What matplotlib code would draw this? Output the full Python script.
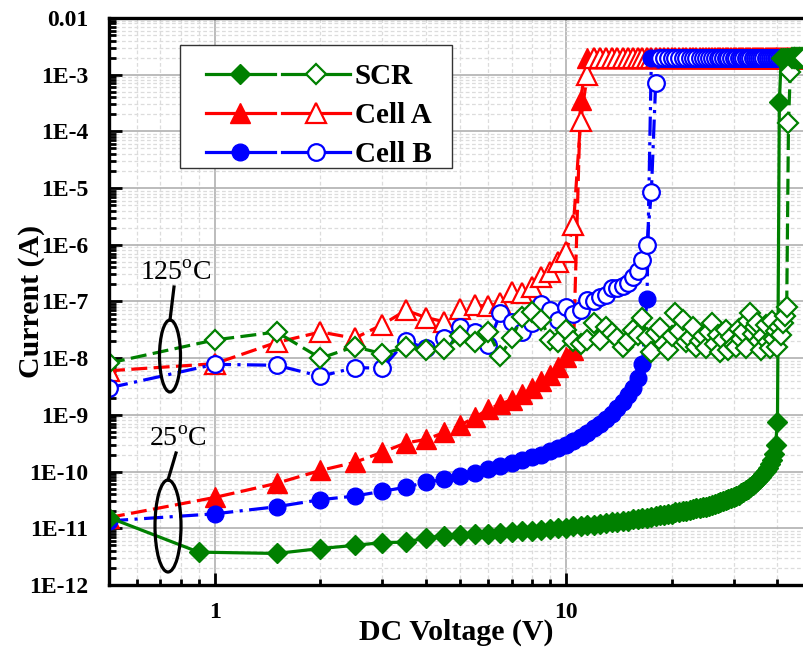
import numpy as np
import matplotlib
matplotlib.use('Agg')
import matplotlib.pyplot as plt
from matplotlib.lines import Line2D
from matplotlib.patches import Ellipse, Rectangle
from matplotlib.legend_handler import HandlerTuple
from matplotlib.ticker import FixedLocator, LogLocator, NullFormatter

plt.rcParams['font.family'] = ['Liberation Serif', 'DejaVu Serif']
plt.rcParams['mathtext.fontset'] = 'custom'
plt.rcParams['mathtext.rm'] = 'Liberation Serif'

# compliance current of the sweep (A)
compliance = 2e-3

# ---------------- 25 C (filled markers) ----------------
# SCR: 0.5, 0.9 V then 1.5 ... 40 V in 0.5 V steps
scr25_v = [0.5, 0.9] + list(np.arange(1.5, 40.01, 0.5))
scr25_i = [1.55e-11, 3.8e-12,
           3.6e-12, 4.4e-12, 5.0e-12, 5.6e-12, 5.7e-12, 6.8e-12, 7.4e-12, 7.5e-12,   # 1.5 - 5
           7.9e-12, 8.0e-12, 8.4e-12, 8.5e-12, 8.9e-12, 9.0e-12, 9.5e-12, 9.6e-12,   # 5.5 - 9
           1.01e-11, 1.03e-11, 1.08e-11, 1.09e-11, 1.14e-11, 1.15e-11, 1.21e-11,     # 9.5 - 12.5
           1.22e-11, 1.28e-11, 1.29e-11, 1.35e-11, 1.37e-11, 1.43e-11, 1.45e-11,     # 13 - 16
           1.52e-11, 1.54e-11, 1.61e-11, 1.63e-11, 1.70e-11, 1.72e-11, 1.80e-11,     # 16.5 - 19.5
           1.82e-11, 1.90e-11, 1.93e-11, 2.01e-11, 2.04e-11, 2.12e-11, 2.16e-11,     # 20 - 23
           2.24e-11, 2.29e-11, 2.38e-11, 2.42e-11, 2.52e-11, 2.58e-11, 2.70e-11,     # 23.5 - 26.5
           2.76e-11, 2.90e-11, 2.98e-11, 3.14e-11, 3.24e-11, 3.42e-11, 3.55e-11,     # 27 - 30
           3.76e-11, 3.92e-11, 4.18e-11, 4.38e-11, 4.70e-11, 4.95e-11, 5.35e-11,     # 30.5 - 33.5
           5.70e-11, 6.20e-11, 6.70e-11, 7.40e-11, 8.10e-11, 9.10e-11, 1.02e-10,     # 34 - 37
           1.16e-10, 1.35e-10, 1.62e-10, 2.05e-10, 3.00e-10, 7.50e-10]               # 37.5 - 40
scr25_bv = [40.5]
scr25_bi = [3.3e-4]
scr25_pv = np.arange(41.0, 47.51, 0.5)

# Cell A: 0.5 ... 10.5 V
cella25_v = np.arange(0.5, 10.51, 0.5)
cella25_i = [1.55e-11, 3.5e-11, 6.2e-11, 1.05e-10, 1.45e-10, 2.2e-10, 3.2e-10, 3.7e-10,
             4.9e-10, 6.6e-10, 9.0e-10, 1.25e-9, 1.55e-9, 1.85e-9, 2.3e-9, 3.0e-9,
             3.9e-9, 5.0e-9, 7.0e-9, 1.05e-8, 1.4e-8]
cella25_bv = [11.0]
cella25_bi = [3.6e-4]
cella25_pv = np.arange(11.5, 47.51, 0.5)

# Cell B: 0.5 ... 17 V
cellb25_v = np.arange(0.5, 17.01, 0.5)
cellb25_i = [1.35e-11, 1.8e-11, 2.4e-11, 3.2e-11, 3.7e-11, 4.5e-11, 5.3e-11, 6.5e-11,
             7.3e-11, 8.3e-11, 9.5e-11, 1.1e-10, 1.25e-10, 1.4e-10, 1.6e-10, 1.8e-10,
             2.0e-10, 2.3e-10, 2.6e-10, 3.0e-10, 3.4e-10, 4.0e-10, 4.8e-10, 5.8e-10,
             7.0e-10, 8.5e-10, 1.05e-9, 1.3e-9, 1.7e-9, 2.2e-9, 3.0e-9, 4.5e-9,
             8.0e-9, 1.1e-7]
cellb25_bv = []
cellb25_bi = []
cellb25_pv = np.arange(17.5, 47.51, 0.5)

# ---------------- 125 C (open markers) ----------------
scr125_v = np.arange(0.5, 42.51, 0.5)
scr125_i = [8.2e-9, 2.1e-8, 2.9e-8, 1.0e-8, 1.6e-8, 1.2e-8, 1.55e-8, 1.4e-8, 1.45e-8, 2.45e-8,  # 0.5 - 5
            1.9e-8, 2.9e-8, 1.1e-8, 2.25e-8, 5.3e-8, 6.5e-8, 4.7e-8, 2.1e-8, 1.9e-8, 3.1e-8,   # 5.5 - 10
            2.0e-8, 1.8e-8, 2.1e-8, 4.1e-8, 2.1e-8, 3.5e-8, 2.8e-8, 2.3e-8, 1.6e-8, 2.0e-8,    # 10.5 - 15
            3.1e-8, 2.6e-8, 5.2e-8, 2.3e-8, 1.3e-8, 2.8e-8, 3.4e-8, 1.8e-8, 1.4e-8, 2.5e-8,    # 15.5 - 20
            6.2e-8, 3.0e-8, 4.7e-8, 1.9e-8, 2.3e-8, 3.6e-8, 1.6e-8, 2.0e-8, 2.5e-8, 1.5e-8,    # 20.5 - 25
            2.9e-8, 4.1e-8, 1.8e-8, 2.6e-8, 1.3e-8, 2.1e-8, 3.2e-8, 1.4e-8, 2.4e-8, 1.7e-8,    # 25.5 - 30
            1.6e-8, 3.3e-8, 2.2e-8, 2.9e-8, 1.5e-8, 4.5e-8, 6.2e-8, 2.7e-8, 3.6e-8, 4.1e-8,    # 30.5 - 35
            2.0e-8, 1.4e-8, 2.5e-8, 3.8e-8, 1.9e-8, 1.5e-8, 4.5e-8, 2.2e-8, 3.0e-8, 1.6e-8,    # 35.5 - 40
            3.5e-8, 2.6e-8, 4.2e-8, 5.5e-8, 7.9e-8]                                             # 40.5 - 42.5
scr125_bv = [43.0, 43.5]
scr125_bi = [1.4e-4, 1.1e-3]
scr125_pv = np.arange(44.0, 47.51, 0.5)

cella125_v = np.arange(0.5, 10.51, 0.5)
cella125_i = [6.0e-9, 8.0e-9, 1.9e-8, 2.9e-8, 2.25e-8, 3.9e-8, 7.0e-8, 5.2e-8, 4.4e-8, 7.3e-8,
              8.6e-8, 8.3e-8, 9.4e-8, 1.46e-7, 1.4e-7, 1.8e-7, 2.7e-7, 3.3e-7, 4.9e-7, 7.4e-7,
              2.2e-6]
cella125_bv = [11.0, 11.5]
cella125_bi = [1.5e-4, 1.0e-3]
cella125_pv = np.arange(12.0, 47.51, 0.5)

cellb125_v = np.arange(0.5, 17.51, 0.5)
cellb125_i = [3.0e-9, 7.8e-9, 7.5e-9, 4.8e-9, 6.8e-9, 6.7e-9, 2.0e-8, 1.5e-8, 2.3e-8, 3.5e-8,
              2.9e-8, 1.7e-8, 6.2e-8, 4.3e-8, 2.9e-8, 4.1e-8, 9.2e-8, 7.0e-8, 4.7e-8, 8.0e-8,
              6.0e-8, 7.0e-8, 1.05e-7, 1.0e-7, 1.2e-7, 1.3e-7, 1.7e-7, 1.75e-7, 1.9e-7, 2.1e-7,
              2.7e-7, 3.5e-7, 5.5e-7, 1.0e-6, 8.6e-6]
cellb125_bv = [18.0]
cellb125_bi = [7.0e-4]
cellb125_pv = np.arange(18.5, 47.51, 0.5)

GREEN = '#008000'
RED = '#ff0000'
BLUE = '#0000ff'
DASH = (0, (5, 2))
DASHDOT = (0, (6, 2, 1, 2))

W, H = 804, 654
fig = plt.figure(figsize=(W / 100, H / 100), dpi=100)
ax = fig.add_axes([109 / W, 1 - 585 / H, 1 - 109 / W, (585 - 18) / H])
ax.set_xscale('log')
ax.set_yscale('log')
ax.set_xlim(0.5, 47.6)
ax.set_ylim(1e-12, 1e-2)


def join(v, i, bv, bi, pv):
    xs = list(v) + list(bv) + list(pv)
    ys = list(i) + list(bi) + [compliance] * len(pv)
    return xs, ys


# drawing order: red under blue under green (as on the compliance plateau)
series = [
    (cella25_v, cella25_i, cella25_bv, cella25_bi, cella25_pv, RED, '^', 14, DASH, True),
    (cella125_v, cella125_i, cella125_bv, cella125_bi, cella125_pv, RED, '^', 14, DASH, False),
    (cellb25_v, cellb25_i, cellb25_bv, cellb25_bi, cellb25_pv, BLUE, 'o', 12, DASHDOT, True),
    (cellb125_v, cellb125_i, cellb125_bv, cellb125_bi, cellb125_pv, BLUE, 'o', 12, DASHDOT, False),
    (scr25_v, scr25_i, scr25_bv, scr25_bi, scr25_pv, GREEN, 'D', 10, '-', True),
    (scr125_v, scr125_i, scr125_bv, scr125_bi, scr125_pv, GREEN, 'D', 10, DASH, False),
]
for v, i, bv, bi, pv, c, m, ms, ls, filled in series:
    xs, ys = join(v, i, bv, bi, pv)
    ax.plot(xs, ys, color=c, lw=2.3, ls=ls, marker=m, ms=ms,
            mfc=c if filled else 'white', mec=c, mew=1.0 if filled else 1.6)

# grid
ax.grid(which='major', color='#b0b0b0', lw=1.2, ls='-')
ax.grid(which='minor', color='#dcdcdc', lw=0.9, ls=(0, (3, 2)))
ax.set_axisbelow(True)

# ticks
ydec = [1e-12, 1e-11, 1e-10, 1e-9, 1e-8, 1e-7, 1e-6, 1e-5, 1e-4, 1e-3, 1e-2]
ylabs = ['1E-12', '1E-11', '1E-10', '1E-9', '1E-8', '1E-7', '1E-6', '1E-5', '1E-4', '1E-3', '0.01']
ax.yaxis.set_major_locator(FixedLocator(ydec))
ax.set_yticklabels(ylabs)
ax.yaxis.set_minor_locator(LogLocator(base=10, subs=np.arange(2, 10), numticks=20))
ax.yaxis.set_minor_formatter(NullFormatter())
ax.xaxis.set_major_locator(FixedLocator([1, 10]))
ax.set_xticklabels(['1', '10'])
ax.xaxis.set_minor_locator(LogLocator(base=10, subs=np.arange(2, 10), numticks=20))
ax.xaxis.set_minor_formatter(NullFormatter())
ax.tick_params(which='both', direction='in', top=False, right=False, width=2, color='black')
ax.tick_params(which='major', length=9, labelsize=17)
ax.tick_params(axis='y', which='major', pad=15)
ax.tick_params(axis='x', which='major', pad=12)
ax.tick_params(axis='y', which='minor', length=5)
ax.tick_params(axis='x', which='minor', length=4)
for lab in ax.get_xticklabels() + ax.get_yticklabels():
    lab.set_fontweight('bold')

for s in ['left', 'bottom', 'top']:
    ax.spines[s].set_linewidth(2.4)
ax.spines['right'].set_visible(False)

ax.set_xlabel('DC Voltage (V)', fontsize=21.5, fontweight='bold')
ax.set_ylabel('Current (A)', fontsize=21.5, fontweight='bold')
ax.xaxis.set_label_coords(0.5, -0.06)
ax.yaxis.set_label_coords(-0.092, 0.5)


def fx(px):
    return px / W


def fy(py):
    return 1 - py / H


# legend: filled (25 C) and open (125 C) handle for each device
handles = []
for c, m, ms in [(GREEN, 'D', 10), (RED, '^', 14), (BLUE, 'o', 12)]:
    h1 = Line2D([], [], color=c, lw=2.3, marker=m, ms=ms, mfc=c, mec=c)
    h2 = Line2D([], [], color=c, lw=2.3, marker=m, ms=ms, mfc='white', mec=c, mew=1.6)
    handles.append((h1, h2))
leg = fig.legend(handles, ['SCR', 'Cell A', 'Cell B'],
                 handler_map={tuple: HandlerTuple(ndivide=None, pad=0.25)},
                 loc='upper left', bbox_to_anchor=(fx(206), fy(63)),
                 bbox_transform=fig.transFigure, borderaxespad=0, borderpad=0,
                 handlelength=4.95, handletextpad=0.15, labelspacing=0.42,
                 frameon=False,
                 prop={'family': 'Liberation Serif', 'weight': 'bold', 'size': 21})
fig.patches.append(Rectangle((fx(180), fy(168)), (452 - 180) / W, (168 - 45) / H,
                             transform=fig.transFigure, fill=True, fc='white',
                             ec='#333333', lw=1.0, zorder=4))
leg.set_zorder(5)

# temperature annotations
for txt, tx, ty, ex, ey, ew, eh, l0, l1 in [
        ('125$^{\\mathrm{o}}$C', 176, 273, 170, 356, 21, 72, (170, 320), (174, 287)),
        ('25$^{\\mathrm{o}}$C', 178, 440, 168, 526, 26, 92, (168, 480), (176, 453))]:
    fig.text(fx(tx), fy(ty), txt, fontsize=20, ha='center', va='center')
    fig.patches.append(Ellipse((fx(ex), fy(ey)), ew / W, eh / H, transform=fig.transFigure,
                               fill=False, lw=2.3, ec='black', zorder=10))
    fig.lines.append(Line2D([fx(l0[0]), fx(l1[0])], [fy(l0[1]), fy(l1[1])],
                            transform=fig.transFigure, color='black', lw=2.3, zorder=10))

fig.savefig('out.png', dpi=100)
